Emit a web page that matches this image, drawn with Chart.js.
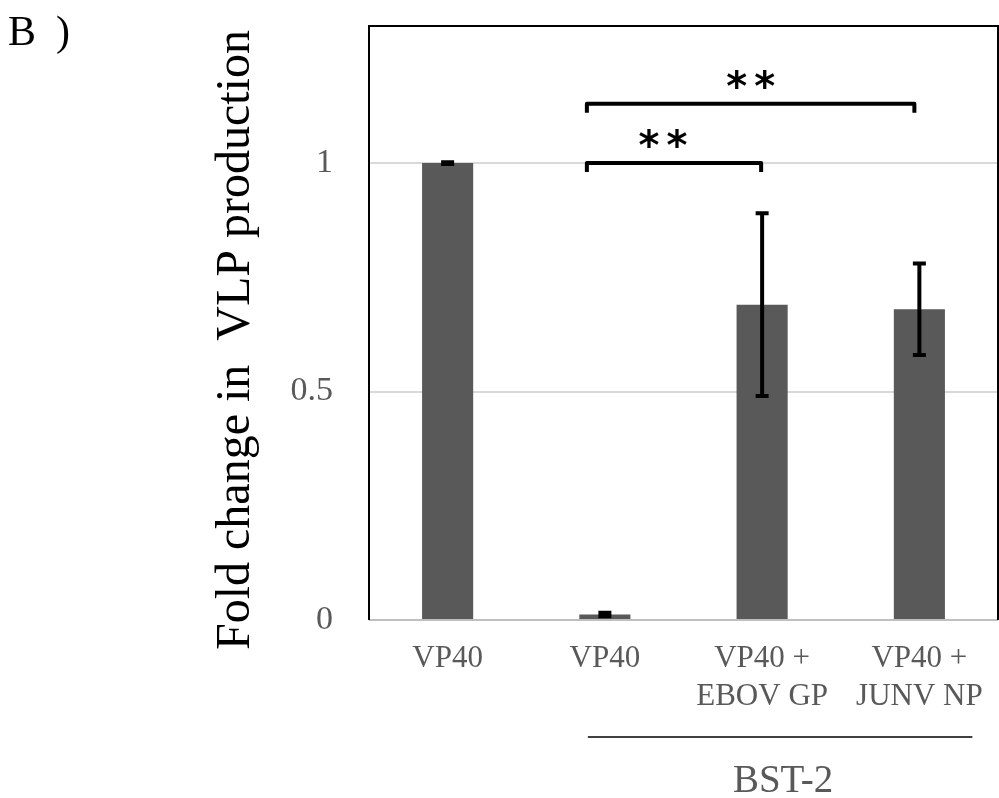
<!DOCTYPE html>
<html>
<head>
<meta charset="utf-8">
<script src="https://cdn.jsdelivr.net/npm/chart.js@4/dist/chart.umd.min.js"></script>
<style>
  html, body { margin: 0; padding: 0; background: #fff; }
  #wrap { width: 999px; height: 798px; position: relative; }
</style>
</head>
<body>
<div id="wrap"><canvas id="c"></canvas></div>
<script>
// Groups on the x axis (multi-line labels)
const categories = ["VP40", "VP40", ["VP40 +", "EBOV GP"], ["VP40 +", "JUNV NP"]];
// Mean fold change in VLP production
const foldChange = [1.0, 0.012, 0.69, 0.68];
// Error (± half-range) for each bar
const errors = [0.002, 0.004, 0.20, 0.10];
// Y tick values
const yTicks = [0, 0.5, 1];
// Significance comparisons: [from index, to index, bracket level, label]
const comparisons = [
  [1, 2, 1.0, "**"],
  [1, 3, 1.13, "**"]
];
// Bars that share the BST-2 condition
const bstGroup = [1, 3];
const bstLabel = "BST-2";
const yTitle = "Fold change in  VLP production";

const SERIF = "'Liberation Serif', 'Times New Roman', serif";

const overlay = {
  id: 'overlay',
  afterDatasetsDraw(chart) {
    const ctx = chart.ctx;
    const xs = chart.scales.x, ys = chart.scales.y;
    const area = chart.chartArea;
    ctx.save();

    // error bars
    ctx.strokeStyle = '#000';
    ctx.lineWidth = 4;
    ctx.lineCap = 'butt';
    foldChange.forEach((v, i) => {
      const x = xs.getPixelForValue(i);
      const yHi = ys.getPixelForValue(v + errors[i]);
      const yLo = ys.getPixelForValue(v - errors[i]);
      ctx.beginPath();
      ctx.moveTo(x, yHi); ctx.lineTo(x, yLo);
      ctx.moveTo(x - 6.5, yHi); ctx.lineTo(x + 6.5, yHi);
      ctx.moveTo(x - 6.5, yLo); ctx.lineTo(x + 6.5, yLo);
      ctx.stroke();
    });

    // frame on left, top, right
    ctx.strokeStyle = '#000';
    ctx.lineWidth = 2;
    ctx.beginPath();
    ctx.moveTo(area.left, area.bottom);
    ctx.lineTo(area.left, area.top);
    ctx.lineTo(area.right, area.top);
    ctx.lineTo(area.right, area.bottom);
    ctx.stroke();

    // significance brackets
    ctx.lineWidth = 4;
    ctx.lineJoin = 'round';
    comparisons.forEach(([a, b, level, label]) => {
      const x1 = xs.getPixelForValue(a) - 18;
      const x2 = xs.getPixelForValue(b) - (b === 3 ? 5 : 1);
      const y = ys.getPixelForValue(level);
      const drop = 9;
      ctx.beginPath();
      ctx.moveTo(x1, y + drop);
      ctx.lineTo(x1, y);
      ctx.lineTo(x2, y);
      ctx.lineTo(x2, y + drop);
      ctx.stroke();
      ctx.fillStyle = '#000';
      ctx.font = "bold 40px 'DejaVu Sans', sans-serif";
      ctx.textAlign = 'center';
      ctx.textBaseline = 'middle';
      const cx = b === 3 ? (x1 + x2) / 2 : (x1 + x2) / 2 - 11;
      const cy = y - 22;
      // two stars with a gap between them
      ctx.fillText(label[0], cx - 14, cy + 8);
      ctx.fillText(label[1], cx + 14, cy + 8);
    });

    // BST-2 group line and label
    const gx1 = xs.getPixelForValue(bstGroup[0]) - 17;
    const gx2 = xs.getPixelForValue(bstGroup[1]) + 53;
    ctx.strokeStyle = '#000';
    ctx.lineWidth = 1.5;
    ctx.beginPath();
    ctx.moveTo(gx1, 737); ctx.lineTo(gx2, 737);
    ctx.stroke();
    ctx.fillStyle = '#595959';
    ctx.font = '39px ' + SERIF;
    ctx.textAlign = 'center';
    ctx.textBaseline = 'alphabetic';
    ctx.fillText(bstLabel, (gx1 + gx2) / 2 + 3, 792);

    // y axis title
    ctx.save();
    ctx.translate(236, 340);
    ctx.rotate(-Math.PI / 2);
    ctx.fillStyle = '#000';
    ctx.font = '48px ' + SERIF;
    ctx.textAlign = 'center';
    ctx.textBaseline = 'middle';
    ctx.fillText(yTitle, 0, 0);
    ctx.restore();

    // panel letter
    ctx.fillStyle = '#000';
    ctx.font = '42px ' + SERIF;
    ctx.textAlign = 'left';
    ctx.textBaseline = 'alphabetic';
    ctx.fillText("B", 8, 45);
    ctx.fillText(")", 56, 45);

    ctx.restore();
  }
};

new Chart(document.getElementById('c'), {
  type: 'bar',
  data: {
    labels: categories,
    datasets: [{
      data: foldChange,
      backgroundColor: '#595959',
      borderWidth: 0,
      categoryPercentage: 1.0,
      barPercentage: 0.325
    }]
  },
  options: {
    responsive: true,
    maintainAspectRatio: false,
    animation: false,
    events: [],
    layout: { padding: { top: 26, right: 1, left: 0, bottom: 0 } },
    plugins: { legend: { display: false }, tooltip: { enabled: false } },
    scales: {
      x: {
        grid: { display: false, drawTicks: false },
        border: { display: false },
        ticks: {
          color: '#595959',
          font: { family: SERIF, size: 31, lineHeight: 1.23 },
          padding: 20,
          maxRotation: 0,
          autoSkip: false
        },
        afterFit(scale) {
          scale.height = 178;
          scale.paddingLeft = 0; scale.paddingRight = 0;
        }
      },
      y: {
        min: 0,
        max: 1.3,
        border: { display: false },
        grid: {
          drawTicks: false,
          lineWidth: 2,
          color: (c) => c.tick && c.tick.value === 0 ? '#bfbfbf' : '#d9d9d9'
        },
        ticks: {
          color: '#595959',
          font: { family: SERIF, size: 34 },
          padding: 36,
          callback: (v) => String(v)
        },
        afterBuildTicks(scale) {
          scale.ticks = yTicks.map(v => ({ value: v }));
        },
        afterFit(scale) {
          scale.width = 369;
          scale.paddingTop = 0; scale.paddingBottom = 0;
        }
      }
    }
  },
  plugins: [overlay]
});
</script>
</body>
</html>
